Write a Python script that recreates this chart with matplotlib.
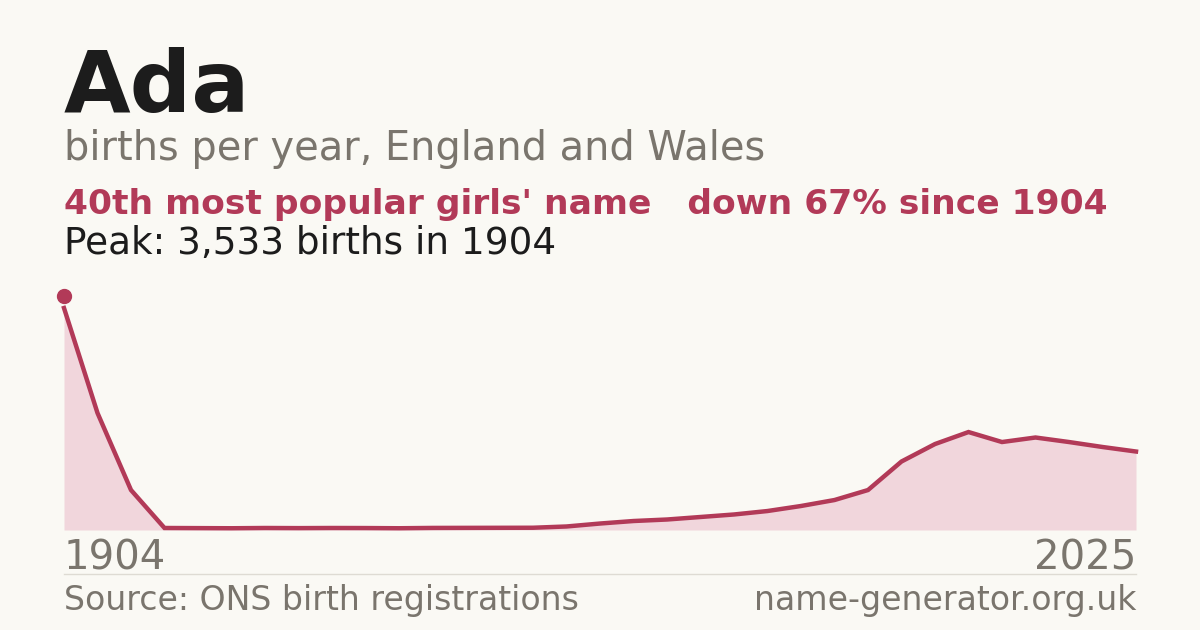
import matplotlib
matplotlib.use("Agg")
import matplotlib.pyplot as plt

# births per year, evenly spaced from 1904 to 2025
births = [3533, 1862, 636, 32, 30, 28, 32, 30, 32, 31, 28, 33, 34, 35, 36,
          56, 103, 143, 167, 207, 247, 302, 382, 477, 636, 1090, 1368, 1559,
          1400, 1472, 1400, 1321, 1249]
first_year = "1904"
last_year = "2025"

name = "Ada"
subtitle = "births per year, England and Wales"
rank_line = "40th most popular girls' name   down 67% since 1904"
peak_line = "Peak: 3,533 births in 1904"
source = "Source: ONS birth registrations"
site = "name-generator.org.uk"

BG = "#faf9f4"
DARK = "#1c1c1c"
GREY = "#7a756d"
RED = "#b23a58"
FILL = "#f1d6dc"

W, H = 1200, 630


def fy(px):
    # pixel row from top -> figure fraction
    return 1 - px / H


plt.rcParams["font.family"] = ["DejaVu Sans"]
fig = plt.figure(figsize=(W / 100, H / 100), dpi=100, facecolor=BG)

# chart area
left, right, top, bottom = 64, 1136, 296, 530
ax = fig.add_axes([left / W, fy(bottom), (right - left) / W, (bottom - top) / H])
ax.set_facecolor(BG)
xs = list(range(len(births)))
ax.fill_between(xs, births, 0, color=FILL, lw=0)
ax.plot(xs, births, color=RED, lw=3.2, solid_joinstyle="miter", clip_on=False)
# peak dot sits on top edge of the plot area
ax.plot([xs[0]], [1], "o", ms=10, color=RED, transform=ax.get_xaxis_transform(),
        clip_on=False)
ax.set_xlim(xs[0], xs[-1])
ax.set_ylim(0, 3724)
ax.axis("off")

# header texts
fig.text(left / W, fy(112), name, fontsize=62, fontweight="bold", color=DARK, va="baseline")
fig.text(left / W, fy(160), subtitle, fontsize=28.7, color=GREY, va="baseline")
fig.text(left / W, fy(214), rank_line, fontsize=24.8, fontweight="bold", color=RED, va="baseline")
fig.text(left / W, fy(254), peak_line, fontsize=26.9, color=DARK, va="baseline")

# year labels
fig.text(left / W, fy(570), first_year, fontsize=28.9, color=GREY, va="baseline")
fig.text(right / W, fy(570), last_year, fontsize=28.9, color=GREY, va="baseline", ha="right")

# separator + footer
fig.add_artist(plt.Line2D([left / W, right / W], [fy(574), fy(574)], color="#dedbd3", lw=1))
fig.text(left / W, fy(610), source, fontsize=23.9, color=GREY, va="baseline")
fig.text(right / W, fy(610), site, fontsize=23.9, color=GREY, va="baseline", ha="right")

fig.savefig("out.png", dpi=100, facecolor=BG)
